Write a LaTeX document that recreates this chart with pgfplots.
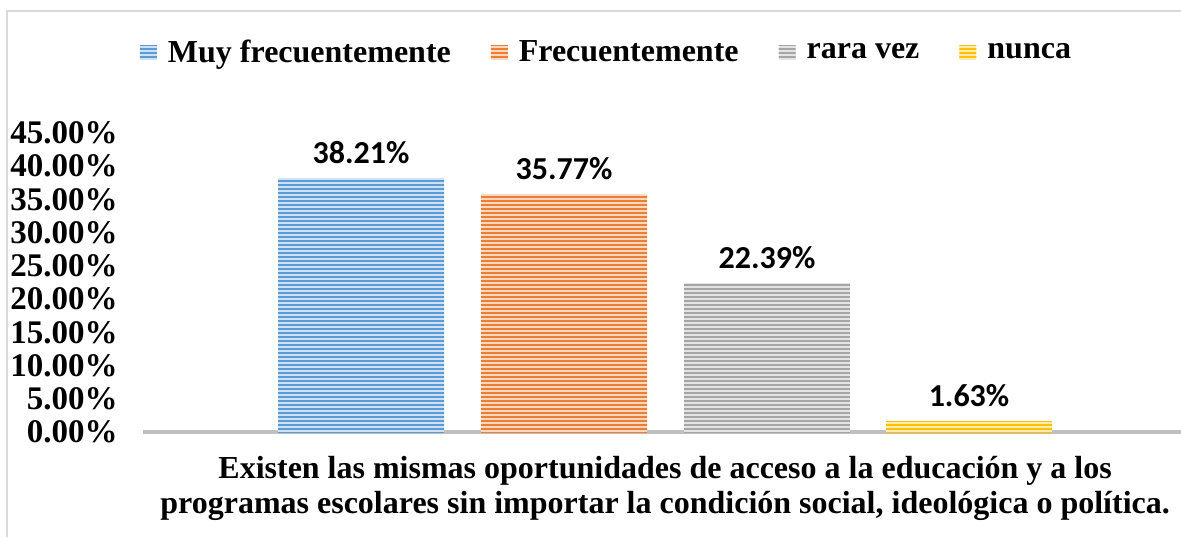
\documentclass[border=0pt]{standalone}
\usepackage{pgfplots}
\pgfplotsset{compat=1.18}
\usepackage{fontspec}
\setmainfont{Liberation Serif}
\newfontfamily\calibri{Carlito}
\usetikzlibrary{patterns.meta}
\definecolor{bC}{HTML}{5B9BD5}
\definecolor{oC}{HTML}{ED7D31}
\definecolor{gC}{HTML}{A5A5A5}
\definecolor{yC}{HTML}{FFC000}
\definecolor{frameC}{HTML}{D9D9D9}
\definecolor{axC}{HTML}{BFBFBF}
\begin{document}
\begin{tikzpicture}
\path[use as bounding box] (0,0) rectangle (590.5pt,268.5pt);
\draw[frameC, line width=1pt] (3.25pt,0) -- (3.25pt,263pt) -- (592pt,263pt);
\begin{axis}[
  at={(71.5pt,52.5pt)}, anchor=south west,
  scale only axis, width=519pt, height=149.5pt,
  xmin=0, xmax=1038, ymin=0, ymax=45,
  clip=false,
  axis lines*=left,
  y axis line style={draw=none},
  x axis line style={line width=2pt, draw=axC},
  major tick length=0pt,
  xtick=\empty,
  ytick={0,5,...,45},
  yticklabels={0.00\%,5.00\%,10.00\%,15.00\%,20.00\%,25.00\%,30.00\%,35.00\%,40.00\%,45.00\%},
  yticklabel style={font=\bfseries\fontsize{16.5}{19}\selectfont, inner sep=0pt, xshift=-12.5pt},
  /pgf/number format/assume math mode=true,
  ybar, bar shift=0pt, bar width=166,
  nodes near coords={\pgfmathprintnumber[fixed,fixed zerofill,precision=2]{\pgfplotspointmeta}\%},
  every node near coord/.append style={font=\calibri\bfseries\fontsize{16}{19}\selectfont, anchor=center, yshift=13pt, text=black},
  legend columns=4,
  legend style={draw=none, at={(0.4475,1.268)}, anchor=center,
    font=\bfseries\fontsize{16}{19}\selectfont, inner sep=0pt,
    /tikz/every even column/.append style={column sep=18pt}},
  legend image code/.code={\fill[#1] (0pt,-3.5pt) rectangle (8.5pt,3.5pt); \path (12pt,0pt);},
  xlabel={Existen las mismas oportunidades de acceso a la educación y a los\\programas escolares sin importar la condición social, ideológica o política.},
  xlabel style={align=center, font=\bfseries\fontsize{16}{17.5}\selectfont, at={(rel axis cs:0.503,0)}, anchor=north, inner sep=0pt, yshift=-12pt},
]
\addplot[fill=bC!30!white, draw=none, postaction={pattern color=bC, pattern={Lines[angle=0,distance=2pt,line width=1pt]}}] coordinates {(218,38.21)};
\addplot[fill=oC!30!white, draw=none, postaction={pattern color=oC, pattern={Lines[angle=0,distance=2pt,line width=1pt]}}] coordinates {(421,35.77)};
\addplot[fill=gC!30!white, draw=none, postaction={pattern color=gC, pattern={Lines[angle=0,distance=2pt,line width=1pt]}}] coordinates {(624,22.39)};
\addplot[fill=yC!30!white, draw=none, postaction={pattern color=yC, pattern={Lines[angle=0,distance=2pt,line width=1pt]}}] coordinates {(826,1.63)};
\legend{Muy frecuentemente,Frecuentemente,rara vez,nunca}
\end{axis}
\end{tikzpicture}
\end{document}
